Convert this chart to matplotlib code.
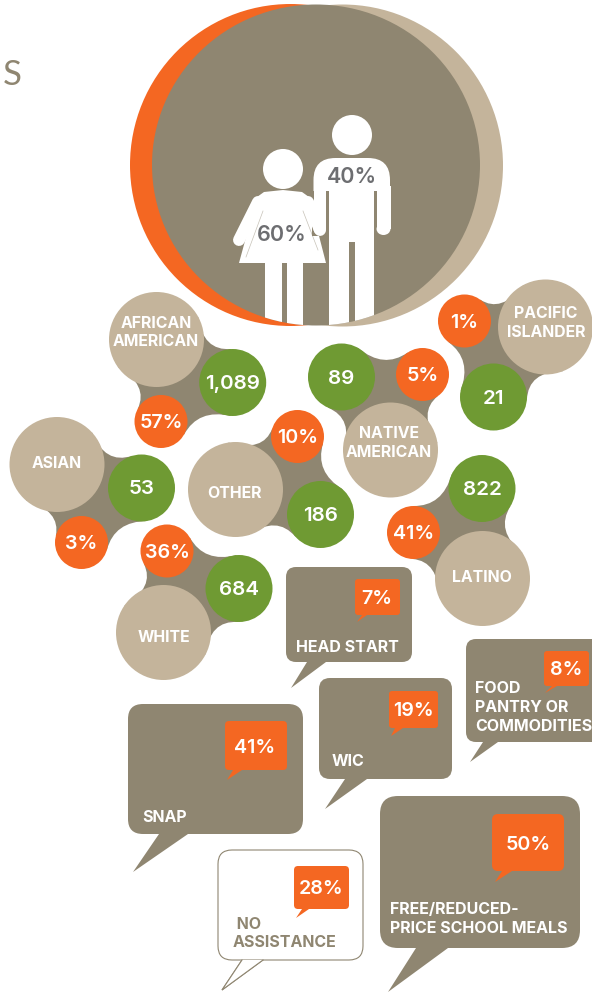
import numpy as np
import matplotlib
matplotlib.use("Agg")
import matplotlib.pyplot as plt
from matplotlib.patches import Circle, Ellipse, FancyBboxPatch, PathPatch, Polygon, Rectangle
from matplotlib.path import Path

plt.rcParams['font.family'] = ['Inter', 'DejaVu Sans']

# Data
groups = ["AFRICAN\nAMERICAN", "PACIFIC\nISLANDER", "NATIVE\nAMERICAN", "ASIAN", "OTHER", "LATINO", "WHITE"]
counts = ["1,089", "21", "89", "53", "186", "822", "684"]
shares = ["57%", "1%", "5%", "3%", "10%", "41%", "36%"]
gender = ["60%", "40%"]
programs = ["HEAD START", "FOOD\nPANTRY OR\nCOMMODITIES", "WIC", "SNAP", " NO\nASSISTANCE",
            "FREE/REDUCED-\nPRICE SCHOOL MEALS"]
program_share = ["7%", "8%", "19%", "41%", "28%", "50%"]

BROWN = '#8F8671'
TAN = '#C4B49B'
ORANGE = '#F46722'
GREEN = '#6F9A33'
GREY = '#6D6E71'

# Layout, in pixels of the picture
tan_xy = [(156.5, 339.5), (545.5, 327), (390.5, 450), (57, 464.5), (235.5, 489.5), (482.5, 578.5), (163.5, 632.5)]
green_xy = [(232.7, 382.5), (493.5, 397), (341.5, 377), (141.5, 488), (320.5, 514.5), (482, 488.5), (239, 588.5)]
orange_xy = [(161, 421.5), (464.5, 321), (422.5, 374.5), (81.5, 542.5), (297.5, 436.5), (413.5, 532.5), (167, 551)]
label_xy = [(156, 332.5), (546, 323), (389, 443), (57, 464), (234, 494), (482, 578), (164, 637)]

# x0, x1, y0, y1, corner, tail (3 points)
boxes = [
    (286, 412, 567, 662, 10, [(307, 662), (291, 688), (326, 662)]),
    (466, 604, 639, 742, 10, [(483, 742), (470, 762), (498, 742)]),
    (319, 452, 678, 779, 11, [(345, 779), (325, 809), (367, 779)]),
    (128, 303, 704, 834, 15, [(159, 834), (133, 872), (188, 834)]),
    (218, 363, 850, 960, 14, [(242, 960), (222, 990), (263, 960)]),
    (380, 580, 796, 948, 18, [(416, 948), (388, 992), (448, 948)]),
]
tags = [
    (355, 400, 579, 615, 3, [(362, 615), (357, 622), (367, 615)]),
    (544, 589, 651, 686, 3, [(552, 686), (545, 693), (557, 686)]),
    (389, 438, 691, 728, 3, [(395, 728), (391, 736), (403, 728)]),
    (225, 287, 721, 770, 4, [(233, 770), (227, 780), (242, 770)]),
    (294, 349, 866, 909, 4, [(302, 909), (296, 918), (309, 909)]),
    (492, 564, 814, 871, 6, [(502, 871), (495, 882), (512, 871)]),
]
tag_text_xy = [(377, 598.5), (566, 670), (413, 711), (255, 748), (321, 889), (528, 845)]
prog_text_xy = [(296, 647.5), (475, 707.5), (332, 762), (142, 818), (233, 933.5), (390, 919)]

fig = plt.figure(figsize=(5.92, 9.92), dpi=100)
ax = fig.add_axes([0, 0, 1, 1])
ax.set_xlim(0, 592)
ax.set_ylim(992, 0)
ax.axis('off')


def blob(ax, circles, spread=58, pull=0.38):
    # brown web between three circles, with concave sides
    pts = np.array([c[:2] for c in circles], dtype=float)
    mid = pts.mean(axis=0)
    verts, codes = [], []
    for i in range(3):
        a, ra = pts[i], circles[i][2]
        b, rb = pts[(i + 1) % 3], circles[(i + 1) % 3][2]
        ang = np.arctan2(*(b - a)[::-1])
        out = np.array([-(b - a)[1], (b - a)[0]])
        sign = 1 if np.dot(out, (a + b) / 2 - mid) > 0 else -1
        d = np.radians(spread) * sign
        p0 = a + ra * np.array([np.cos(ang + d), np.sin(ang + d)])
        ang2 = ang + np.pi
        p1 = b + rb * np.array([np.cos(ang2 - d), np.sin(ang2 - d)])
        ctrl = (p0 + p1) / 2 + pull * (mid - (p0 + p1) / 2)
        verts += [p0, ctrl, p1]
        codes += [Path.MOVETO if i == 0 else Path.LINETO, Path.CURVE3, Path.CURVE3]
    verts.append(verts[0])
    codes.append(Path.CLOSEPOLY)
    ax.add_patch(PathPatch(Path(verts, codes), fc=BROWN, ec='none', zorder=1))


def bubble(ax, spec, fc, ec='none', lw=0, z=2):
    x0, x1, y0, y1, r, tail = spec
    ax.add_patch(Polygon(tail, closed=True, fc=fc, ec=ec, lw=lw, zorder=z, joinstyle='miter'))
    ax.add_patch(FancyBboxPatch((x0 + r, y0 + r), x1 - x0 - 2 * r, y1 - y0 - 2 * r,
                                boxstyle=f"round,pad={r},rounding_size={r}",
                                fc=fc, ec=ec, lw=lw, zorder=z, mutation_aspect=1))
    if ec != 'none':
        # hide the outline where the tail joins the box
        ax.add_patch(Polygon(tail, closed=True, fc=fc, ec='none', zorder=z + 0.1))
        ax.plot([tail[0][0], tail[1][0], tail[2][0]], [tail[0][1], tail[1][1], tail[2][1]],
                color=ec, lw=lw, zorder=z + 0.2, solid_joinstyle='miter')


# Big circle
ax.add_patch(Ellipse((342.5, 165.5), 321, 322, fc=TAN, ec='none', zorder=1))
ax.add_patch(Ellipse((290.5, 165), 321, 322, fc=ORANGE, ec='none', zorder=1.1))
big = Ellipse((316, 165), 328, 321, fc=BROWN, ec='none', zorder=1.2)
ax.add_patch(big)

# People
people = []
people.append(Ellipse((283, 169), 40, 40, fc='white', ec='none'))
people.append(Ellipse((352, 135), 40, 40, fc='white', ec='none'))
people.append(Polygon([(257, 197), (264, 192), (283, 190), (302, 192), (309, 197),
                       (326, 263), (239, 263)], closed=True, fc='white', ec='none'))
people.append(Rectangle((265, 263), 16.5, 70, fc='white', ec='none'))
people.append(Rectangle((287, 263), 16, 70, fc='white', ec='none'))
# man: rounded shoulders, torso, legs
people.append(FancyBboxPatch((335.5, 180), 32.5, 30, boxstyle="round,pad=22,rounding_size=22", fc='white', ec='none'))
for p in people:
    ax.add_patch(p)
    p.set_zorder(1.5)
    p.set_clip_path(big)
# blank out below the shoulders, then draw the arms and legs
ax.add_patch(Rectangle((312, 191), 80, 45, fc=BROWN, ec='none', zorder=1.55))
for rect in [(329, 185, 45, 57), (329, 240, 20, 90), (355, 240, 19, 90)]:
    leg = Rectangle(rect[:2], rect[2], rect[3], fc='white', ec='none', zorder=1.6)
    ax.add_patch(leg)
    leg.set_clip_path(big)
ax.add_patch(Rectangle((376.6, 186), 13.9, 43, fc='white', ec='none', zorder=1.7))
ax.add_patch(Ellipse((383.5, 229), 13.9, 12, fc='white', ec='none', zorder=1.7))
ax.add_patch(Rectangle((313.5, 186), 12.5, 43, fc='white', ec='none', zorder=1.7))
ax.add_patch(Ellipse((319.7, 229), 12.5, 12, fc='white', ec='none', zorder=1.7))
# woman's arms, drawn over the man
ax.plot([258, 239], [202, 240], color='white', lw=8.6, solid_capstyle='round', zorder=1.8)
ax.plot([308, 320], [202, 230], color='white', lw=8.6, solid_capstyle='round', zorder=1.8)
ax.plot([263, 246], [211, 257], color=BROWN, lw=0.5, alpha=0.5, zorder=1.9)
ax.plot([303, 318], [211, 250], color=BROWN, lw=0.5, alpha=0.5, zorder=1.9)
ax.text(281.5, 235, gender[0], color=GREY, fontsize=15.5, fontweight='semibold', ha='center', va='center', zorder=3)
ax.text(352, 177, gender[1], color=GREY, fontsize=15.5, fontweight='semibold', ha='center', va='center', zorder=3)

# Cut-off heading letter
ax.text(12.5, 75, "S", color=BROWN, fontsize=25, fontfamily='Lato', ha='center', va='center')

# Race / ethnicity clusters
for i in range(len(groups)):
    trio = [(*tan_xy[i], 47.5), (*green_xy[i], 33.5), (*orange_xy[i], 26.5)]
    blob(ax, trio)
    ax.add_patch(Circle(tan_xy[i], 47.5, fc=TAN, ec='none', zorder=2))
    ax.add_patch(Circle(green_xy[i], 33.5, fc=GREEN, ec='none', zorder=2.1))
    ax.add_patch(Circle(orange_xy[i], 26.5, fc=ORANGE, ec='none', zorder=2.1))
    ax.text(*label_xy[i], groups[i], color='white', fontsize=11.4, fontweight='bold', ha='center', va='center',
            linespacing=1.3, zorder=3)
    ax.text(green_xy[i][0], green_xy[i][1] + 1.5, counts[i], color='white', fontsize=14.8, fontweight='semibold',
            ha='center', va='center', zorder=3)
    ax.text(orange_xy[i][0], orange_xy[i][1] + 1.5, shares[i], color='white', fontsize=14.2, fontweight='semibold',
            ha='center', va='center', zorder=3)

# Assistance speech bubbles
for i in range(len(programs)):
    if "NO" in programs[i] and "ASSIST" in programs[i]:
        bubble(ax, boxes[i], 'white', ec=BROWN, lw=0.8)
        col = BROWN
    else:
        bubble(ax, boxes[i], BROWN)
        col = 'white'
    bubble(ax, tags[i], ORANGE, z=3)
    ax.text(*tag_text_xy[i], program_share[i], color='white', fontsize=14.2, fontweight='semibold',
            ha='center', va='center', zorder=4)
    ax.text(*prog_text_xy[i], programs[i], color=col, fontsize=11.5, fontweight='bold', ha='left', va='center',
            linespacing=1.3, zorder=4, clip_on=False)

fig.savefig('out.png', dpi=100)
